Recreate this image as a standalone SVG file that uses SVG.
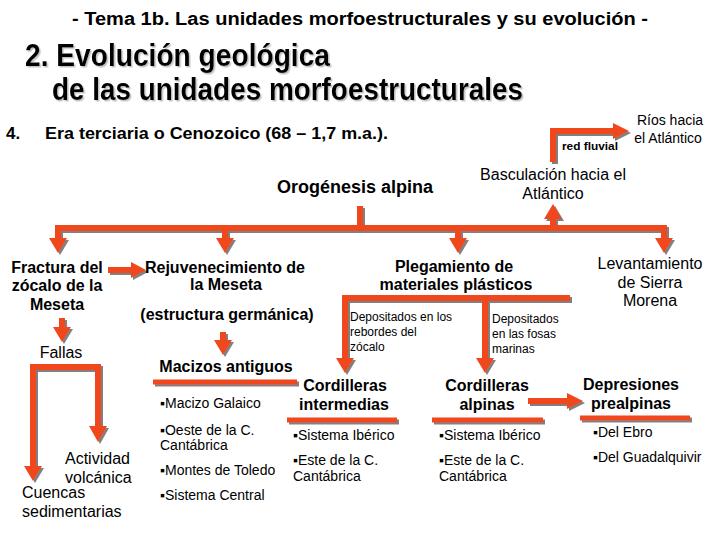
<svg xmlns="http://www.w3.org/2000/svg" width="720" height="540" viewBox="0 0 720 540">
<defs>
<style>
text{font-family:"Liberation Sans",Arial,"DejaVu Sans",sans-serif;fill:#000}
.b{font-weight:bold}
.h16{font-size:16px}
.r16{font-size:16px}
.r14{font-size:14px}
.r12{font-size:12px}
.m{text-anchor:middle}
.ln{fill:none;stroke:#F0461E;stroke-width:6;stroke-linejoin:miter}
.ul{fill:none;stroke:#F0461E;stroke-width:5}
.hd{fill:#F0461E;stroke:none}
</style>
<filter id="sh" filterUnits="userSpaceOnUse" x="0" y="0" width="720" height="540">
<feDropShadow dx="2" dy="2" stdDeviation="0" flood-color="#808080"/>
</filter>
<filter id="tsh" filterUnits="userSpaceOnUse" x="0" y="0" width="720" height="540">
<feDropShadow dx="1.5" dy="1.5" stdDeviation="0.4" flood-color="#9a9a9a" flood-opacity="0.6"/>
</filter>
</defs>
<rect width="720" height="540" fill="#fff"/>

<g id="headings">
<text x="360" y="25" class="b m" font-size="18" textLength="576" lengthAdjust="spacingAndGlyphs">- Tema 1b. Las unidades morfoestructurales y su evolución -</text>
<g filter="url(#tsh)">
<text x="25" y="66" class="b" font-size="32" textLength="305" lengthAdjust="spacingAndGlyphs">2. Evolución geológica</text>
<text x="52" y="100" class="b" font-size="32" textLength="471" lengthAdjust="spacingAndGlyphs">de las unidades morfoestructurales</text>
</g>
<text x="6" y="139" class="b" font-size="17">4.</text>
<text x="45" y="139" class="b" font-size="17" textLength="343" lengthAdjust="spacingAndGlyphs">Era terciaria o Cenozoico (68 – 1,7 m.a.).</text>
</g>

<g id="connectors" filter="url(#sh)">
<path class="ln" d="M360,206 V228"/>
<path class="ln" d="M58,240 V228 H664 V240"/>
<path class="ln" d="M225,228 V240 M458,228 V240 M553,228 V217"/>
<polygon class="hd" points="49,238 67,238 58,253"/>
<polygon class="hd" points="216,238 234,238 225,253"/>
<polygon class="hd" points="449,238 467,238 458,253"/>
<polygon class="hd" points="655,238 673,238 664,253"/>
<polygon class="hd" points="544,219 562,219 553,204"/>
<path class="ln" d="M553,162 V131 H614"/>
<polygon class="hd" points="613,123 613,139 629,131"/>
<path class="ln" d="M108,270 H132"/>
<polygon class="hd" points="131,262 131,278 146,270"/>
<path class="ln" d="M62,318 V329"/>
<polygon class="hd" points="53,327 71,327 62,342"/>
<path class="ln" d="M223,332 V342"/>
<polygon class="hd" points="214,340 232,340 223,355"/>
<path class="ln" d="M33,468 V367 H98 V428"/>
<polygon class="hd" points="24,466 42,466 33,481"/>
<polygon class="hd" points="89,426 107,426 98,442"/>
<path class="ul" d="M153,382 H297"/>
<path class="ln" d="M345,360 V298 H570 M485,298 V360"/>
<polygon class="hd" points="336,358 354,358 345,373"/>
<polygon class="hd" points="476,358 494,358 485,373"/>
<path class="ul" d="M287,420 H397 M432,420 H543 M580,418 H690"/>
<path class="ln" d="M528,401 H568"/>
<polygon class="hd" points="567,393 567,409 583,401"/>
</g>

<g id="n-orogenesis"><text x="355" y="193" class="b m" font-size="18">Orogénesis alpina</text></g>
<g id="n-basculacion"><text x="553" y="180" class="r16 m">Basculación hacia el</text><text x="553" y="199" class="r16 m">Atlántico</text></g>
<g id="n-redfluvial"><text x="562" y="150" class="b" font-size="11.5" textLength="56" lengthAdjust="spacingAndGlyphs">red fluvial</text></g>
<g id="n-rios"><text x="670" y="125" class="r14 m">Ríos hacia</text><text x="668" y="143" class="r14 m">el Atlántico</text></g>

<g id="n-fractura"><text x="57" y="273" class="b h16 m">Fractura del</text><text x="57" y="291" class="b h16 m">zócalo de la</text><text x="57" y="310" class="b h16 m">Meseta</text></g>
<g id="n-fallas"><text x="61" y="358" class="r16 m">Fallas</text></g>
<g id="n-volcanica"><text x="65" y="464" class="r16">Actividad</text><text x="65" y="483" class="r16">volcánica</text></g>
<g id="n-cuencas"><text x="22" y="498" class="r16">Cuencas</text><text x="22" y="517" class="r16">sedimentarias</text></g>

<g id="n-rejuvenecimiento"><text x="225" y="273" class="b h16 m">Rejuvenecimiento de</text><text x="226" y="290" class="b h16 m">la Meseta</text><text x="227" y="320" class="b h16 m">(estructura germánica)</text></g>
<g id="n-macizos"><text x="226" y="372" class="b h16 m">Macizos antiguos</text>
<text x="160" y="408" class="r14">▪Macizo Galaico</text>
<text x="160" y="435" class="r14">▪Oeste de la C.</text>
<text x="160" y="450" class="r14">Cantábrica</text>
<text x="160" y="475" class="r14">▪Montes de Toledo</text>
<text x="160" y="500" class="r14">▪Sistema Central</text></g>

<g id="n-plegamiento"><text x="454" y="272" class="b h16 m">Plegamiento de</text><text x="456" y="290" class="b h16 m">materiales plásticos</text></g>
<g id="n-dep-rebordes"><text x="350" y="321" class="r12">Depositados en los</text><text x="350" y="336" class="r12">rebordes del</text><text x="350" y="351" class="r12">zócalo</text></g>
<g id="n-dep-fosas"><text x="492" y="323" class="r12">Depositados</text><text x="492" y="338" class="r12">en las fosas</text><text x="492" y="353" class="r12">marinas</text></g>
<g id="n-levantamiento"><text x="650" y="269" class="r16 m">Levantamiento</text><text x="650" y="288" class="r16 m">de Sierra</text><text x="650" y="306" class="r16 m">Morena</text></g>

<g id="n-intermedias"><text x="345" y="391" class="b h16 m">Cordilleras</text><text x="344" y="410" class="b h16 m">intermedias</text>
<text x="293" y="440" class="r14">▪Sistema Ibérico</text>
<text x="293" y="465" class="r14">▪Este de la C.</text>
<text x="293" y="481" class="r14">Cantábrica</text></g>
<g id="n-alpinas"><text x="487" y="391" class="b h16 m">Cordilleras</text><text x="487" y="410" class="b h16 m">alpinas</text>
<text x="439" y="440" class="r14">▪Sistema Ibérico</text>
<text x="439" y="465" class="r14">▪Este de la C.</text>
<text x="439" y="481" class="r14">Cantábrica</text></g>
<g id="n-depresiones"><text x="631" y="390" class="b h16 m">Depresiones</text><text x="631" y="409" class="b h16 m">prealpinas</text>
<text x="593" y="437" class="r14">▪Del Ebro</text>
<text x="593" y="462" class="r14">▪Del Guadalquivir</text></g>
</svg>
